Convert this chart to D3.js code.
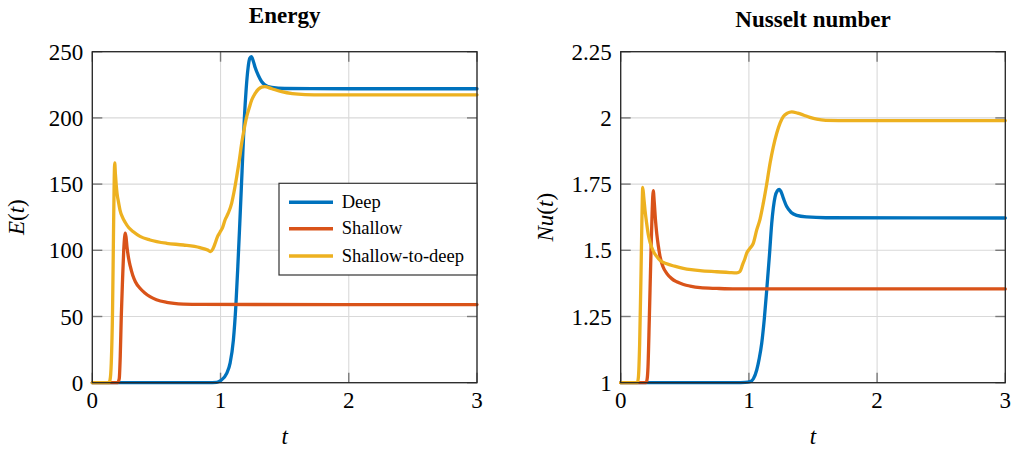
<!DOCTYPE html>
<html>
<head>
<meta charset="utf-8">
<script src="https://cdn.jsdelivr.net/npm/d3@7"></script>
<style>
  html, body { margin: 0; padding: 0; background: #fff; }
  svg { display: block; }
  text { font-family: "Liberation Serif", "Times New Roman", serif; fill: #000; }
</style>
</head>
<body>
<svg id="chart" width="1015" height="449"></svg>
<script>
// ---------------- data (t, value) ----------------
const seriesNames = ["Deep", "Shallow", "Shallow-to-deep"];
const seriesColors = ["#0072BD", "#D95319", "#EDB120"];

const xTicks = [0, 1, 2, 3];
const energyTicks = [0, 50, 100, 150, 200, 250];
const energyTickLabels = ["0", "50", "100", "150", "200", "250"];
const nuTicks = [1, 1.25, 1.5, 1.75, 2, 2.25];
const nuTickLabels = ["1", "1.25", "1.5", "1.75", "2", "2.25"];

const energyDeep = [[0,0],[0.9,0],[0.97,0.3],[1.0,1.5],[1.048,7],[1.075,15],[1.1,32],[1.12,59],[1.135,88],[1.15,120],[1.168,160],[1.186,200],[1.2,222],[1.215,238],[1.228,245],[1.24,246.2],[1.255,243],[1.27,238],[1.295,232],[1.32,227.5],[1.345,225],[1.4,223],[1.5,222.2],[2,222],[3,222]];
const energyShallow = [[0,0],[0.198,0],[0.21,3],[0.218,20],[0.226,50],[0.236,78],[0.245,100],[0.252,110],[0.257,113],[0.263,110],[0.27,103],[0.283,94],[0.296,88],[0.316,81],[0.336,76.3],[0.372,71.3],[0.41,67.8],[0.45,65],[0.5,62.7],[0.58,60.7],[0.71,59.4],[0.85,59.1],[3,59]];
const energyShallowToDeep = [[0,0],[0.128,0],[0.138,2],[0.148,15],[0.158,55],[0.165,110],[0.171,155],[0.175,166],[0.18,158],[0.186,150],[0.193,143],[0.205,136],[0.216,130.4],[0.235,125],[0.257,121],[0.285,117],[0.32,114],[0.372,110.5],[0.45,107.8],[0.58,105.3],[0.71,104],[0.84,102],[0.9,100.2],[0.923,99],[0.94,101],[0.957,105],[0.975,110],[0.995,113.5],[1.015,117],[1.035,122.9],[1.06,128],[1.087,135.7],[1.105,144],[1.126,155.6],[1.145,167],[1.165,180.8],[1.185,192],[1.204,201],[1.225,208],[1.243,213.5],[1.27,218.5],[1.295,221.6],[1.32,223.2],[1.344,223.6],[1.4,222],[1.477,219.8],[1.56,218.3],[1.66,217.6],[1.8,217.4],[3,217.4]];

const nuDeep = [[0,1],[0.9,1],[0.97,1.001],[1.009,1.004],[1.035,1.015],[1.061,1.048],[1.08,1.09],[1.1,1.149],[1.12,1.24],[1.139,1.35],[1.16,1.48],[1.178,1.602],[1.204,1.702],[1.222,1.725],[1.237,1.73],[1.25,1.722],[1.27,1.695],[1.295,1.665],[1.33,1.643],[1.373,1.632],[1.45,1.626],[1.6,1.623],[3,1.622]];
const nuShallow = [[0,1],[0.197,1],[0.205,1.01],[0.213,1.06],[0.223,1.237],[0.236,1.489],[0.245,1.64],[0.254,1.725],[0.262,1.68],[0.272,1.61],[0.281,1.564],[0.294,1.515],[0.307,1.476],[0.33,1.438],[0.359,1.413],[0.4,1.392],[0.437,1.381],[0.49,1.371],[0.541,1.365],[0.62,1.359],[0.75,1.356],[0.9,1.354],[3,1.354]];
const nuShallowToDeep = [[0,1],[0.13,1],[0.138,1.02],[0.148,1.15],[0.158,1.4],[0.165,1.6],[0.172,1.738],[0.18,1.7],[0.19,1.65],[0.203,1.6],[0.215,1.56],[0.229,1.53],[0.254,1.497],[0.28,1.477],[0.307,1.462],[0.359,1.449],[0.42,1.44],[0.488,1.432],[0.55,1.427],[0.619,1.423],[0.749,1.419],[0.85,1.416],[0.905,1.415],[0.93,1.42],[0.95,1.445],[0.97,1.47],[0.983,1.489],[1.009,1.508],[1.034,1.526],[1.061,1.577],[1.087,1.618],[1.112,1.677],[1.139,1.75],[1.165,1.829],[1.19,1.89],[1.217,1.942],[1.243,1.98],[1.268,2.005],[1.3,2.018],[1.334,2.023],[1.38,2.018],[1.424,2.011],[1.475,2.002],[1.529,1.995],[1.6,1.991],[1.8,1.99],[3,1.99]];

// ---------------- layout ----------------
const svg = d3.select("#chart");
const plotTop = 51.7, plotBottom = 382.7;
const panels = [
  { left: 92.3, right: 477, title: "Energy", titleY: 22.7, ylabel: ["E", "(", "t", ")"], ylabelX: 23.5,
    domain: [0, 250], ticks: energyTicks, tickLabels: energyTickLabels,
    series: [energyDeep, energyShallow, energyShallowToDeep], legend: true },
  { left: 620.7, right: 1005.3, title: "Nusselt number", titleY: 26.7, ylabel: ["Nu", "(", "t", ")"], ylabelX: 552.5,
    domain: [1, 2.25], ticks: nuTicks, tickLabels: nuTickLabels,
    series: [nuDeep, nuShallow, nuShallowToDeep], legend: false }
];

const tickLen = 10;
const fontSize = 23;

panels.forEach(p => {
  const x = d3.scaleLinear().domain([0, 3]).range([p.left, p.right]);
  const y = d3.scaleLinear().domain(p.domain).range([plotBottom, plotTop]);
  const g = svg.append("g");

  // grid
  g.selectAll(".gx").data(xTicks).enter().append("line")
    .attr("x1", d => x(d)).attr("x2", d => x(d)).attr("y1", plotTop).attr("y2", plotBottom)
    .attr("stroke", "#d9d9d9").attr("stroke-width", 1.1);
  g.selectAll(".gy").data(p.ticks).enter().append("line")
    .attr("x1", p.left).attr("x2", p.right).attr("y1", d => y(d)).attr("y2", d => y(d))
    .attr("stroke", "#d9d9d9").attr("stroke-width", 1.1);

  // inward tick marks on all four sides
  const tc = "#7a7a7a", tw = 1.4;
  xTicks.forEach(d => {
    g.append("line").attr("x1", x(d)).attr("x2", x(d)).attr("y1", plotBottom).attr("y2", plotBottom - tickLen).attr("stroke", tc).attr("stroke-width", tw);
    g.append("line").attr("x1", x(d)).attr("x2", x(d)).attr("y1", plotTop).attr("y2", plotTop + tickLen).attr("stroke", tc).attr("stroke-width", tw);
  });
  p.ticks.forEach(d => {
    g.append("line").attr("x1", p.left).attr("x2", p.left + tickLen).attr("y1", y(d)).attr("y2", y(d)).attr("stroke", tc).attr("stroke-width", tw);
    g.append("line").attr("x1", p.right).attr("x2", p.right - tickLen).attr("y1", y(d)).attr("y2", y(d)).attr("stroke", tc).attr("stroke-width", tw);
  });

  // curves
  const line = d3.line().x(d => x(d[0])).y(d => y(d[1])).curve(d3.curveMonotoneX);
  p.series.forEach((s, i) => {
    g.append("path").datum(s).attr("d", line)
      .attr("fill", "none").attr("stroke", seriesColors[i]).attr("stroke-width", 3.3)
      .attr("stroke-linejoin", "round").attr("stroke-linecap", "round");
  });

  // frame
  g.append("rect").attr("x", p.left).attr("y", plotTop).attr("width", p.right - p.left).attr("height", plotBottom - plotTop)
    .attr("fill", "none").attr("stroke", "#262626").attr("stroke-width", 1.3);

  // tick labels
  g.selectAll(".xl").data(xTicks).enter().append("text")
    .attr("x", d => x(d)).attr("y", plotBottom + 25.6).attr("text-anchor", "middle")
    .attr("font-size", fontSize).text(d => d3.format("d")(d));
  g.selectAll(".yl").data(p.ticks).enter().append("text")
    .attr("x", p.left - 9).attr("y", d => y(d) + 8).attr("text-anchor", "end")
    .attr("font-size", fontSize).text((d, i) => p.tickLabels[i]);

  // title
  g.append("text").attr("x", (p.left + p.right) / 2).attr("y", p.titleY).attr("text-anchor", "middle")
    .attr("font-size", fontSize).attr("font-weight", "bold").text(p.title);

  // x label
  g.append("text").attr("x", (p.left + p.right) / 2).attr("y", 444).attr("text-anchor", "middle")
    .attr("font-size", fontSize).attr("font-style", "italic").text("t");

  // y label
  const yl = g.append("text").attr("transform", `translate(${p.ylabelX},${(plotTop + plotBottom) / 2}) rotate(-90)`)
    .attr("text-anchor", "middle").attr("font-size", fontSize);
  p.ylabel.forEach(part => {
    yl.append("tspan").attr("font-style", (part === "(" || part === ")") ? "normal" : "italic").text(part);
  });

  // legend
  if (p.legend) {
    const lx = 279, ly = 183.3, lw = p.right - 279, lh = 91.7;
    const lg = g.append("g");
    lg.append("rect").attr("x", lx).attr("y", ly).attr("width", lw).attr("height", lh)
      .attr("fill", "#fff").attr("stroke", "#333").attr("stroke-width", 1.2);
    const rowY = [202.3, 228.7, 256];
    seriesNames.forEach((n, i) => {
      lg.append("line").attr("x1", 289).attr("x2", 333).attr("y1", rowY[i]).attr("y2", rowY[i])
        .attr("stroke", seriesColors[i]).attr("stroke-width", 3.6);
      lg.append("text").attr("x", 341.7).attr("y", rowY[i] + 5.5).attr("font-size", 18.5).text(n);
    });
  }
});
</script>
</body>
</html>
